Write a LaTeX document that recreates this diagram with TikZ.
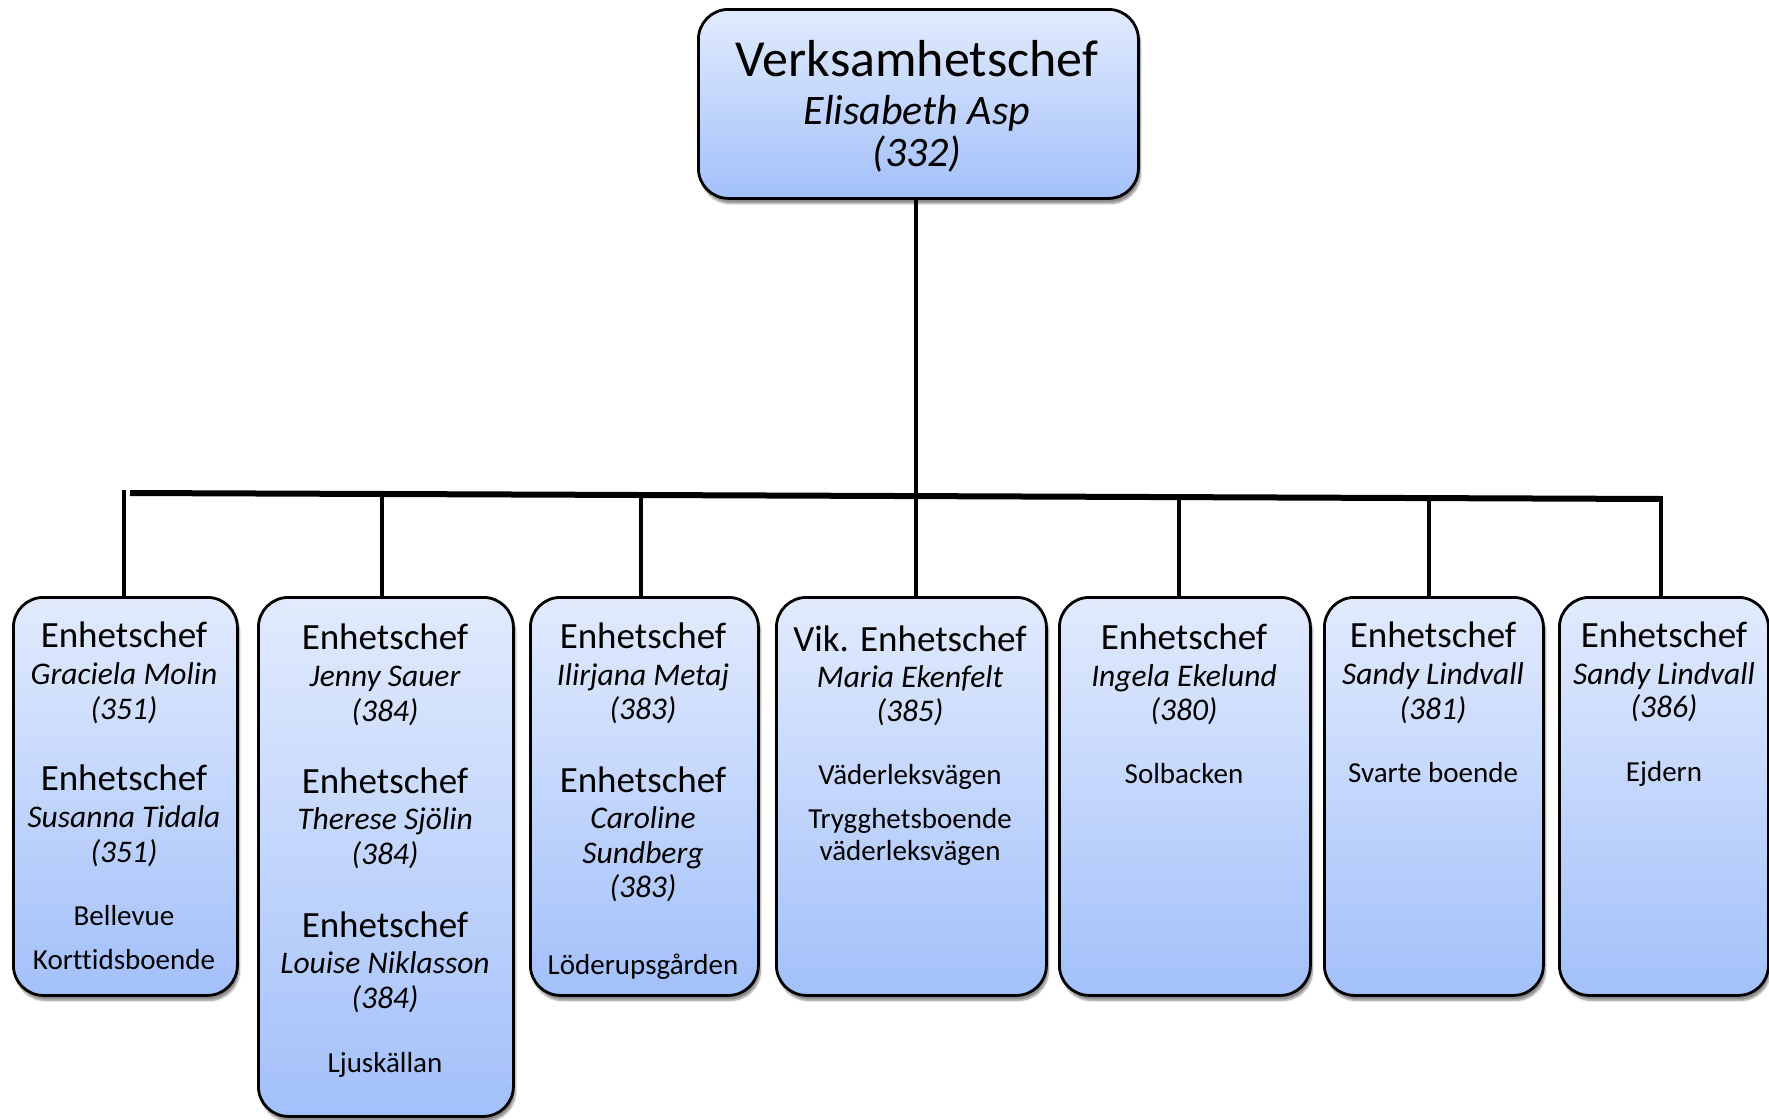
\documentclass[tikz,border=0pt]{standalone}
\usepackage{fontspec}
\setmainfont[Ligatures=NoCommon]{Carlito}
\usetikzlibrary{shadows.blur}
\definecolor{bluetop}{RGB}{226,235,253}
\definecolor{bluebot}{RGB}{162,192,250}
\tikzset{
  unitbox/.style={draw, line width=2.8pt, rounded corners=30pt, top color=bluetop, bottom color=bluebot,
    blur shadow={shadow xshift=2pt, shadow yshift=-5pt, shadow blur steps=6, shadow opacity=45},
    inner sep=0pt, anchor=north west},
  hd/.style={anchor=base, inner sep=0pt, font=\fontsize{37}{40}\selectfont},
  nm/.style={anchor=base, inner sep=0pt, font=\fontsize{31.5}{34}\selectfont\itshape},
  pl/.style={anchor=base, inner sep=0pt, font=\fontsize{29}{32}\selectfont},
  conn/.style={line width=4.4pt},
  barline/.style={line width=6pt}
}
\begin{document}
\begin{tikzpicture}[x=1pt,y=-1pt]
\useasboundingbox (0,0) rectangle (1769,1119);

% top box
\node[unitbox, minimum width=440pt, minimum height=189pt] (top) at (697,8) {};
\node[anchor=base, inner sep=0pt, font=\fontsize{52}{56}\selectfont] (topt) at (917,76) {Verksamhetschef};
\node[anchor=base, inner sep=0pt, font=\fontsize{42}{46}\selectfont\itshape] (topn) at (917,124) {Elisabeth Asp};
\node[anchor=base, inner sep=0pt, font=\fontsize{42}{46}\selectfont\itshape] (topk) at (917,166) {(332)};

% unit boxes
\node[unitbox, minimum width=224pt, minimum height=398pt] (b1) at (12,596) {};
\node[unitbox, minimum width=255pt, minimum height=519pt] (b2) at (257,596) {};
\node[unitbox, minimum width=228pt, minimum height=398pt] (b3) at (529,596) {};
\node[unitbox, minimum width=270pt, minimum height=398pt] (b4) at (775,596) {};
\node[unitbox, minimum width=251pt, minimum height=398pt] (b5) at (1058,596) {};
\node[unitbox, minimum width=219pt, minimum height=398pt] (b6) at (1323,596) {};
\node[unitbox, minimum width=209pt, minimum height=398pt] (b7) at (1558,596) {};

% box 1
\node[hd] (b1a) at (124,647) {Enhetschef};
\node[nm] (b1b) at (124,684) {Graciela Molin};
\node[nm] (b1c) at (124,719) {(351)};
\node[hd] (b1d) at (124,790) {Enhetschef};
\node[nm] (b1e) at (124,827) {Susanna Tidala};
\node[nm] (b1f) at (124,862) {(351)};
\node[pl] (b1g) at (124,925) {Bellevue};
\node[pl] (b1h) at (124,969) {Korttidsboende};

% box 2
\node[hd] (b2a) at (385,649) {Enhetschef};
\node[nm] (b2b) at (385,686) {Jenny Sauer};
\node[nm] (b2c) at (385,721) {(384)};
\node[hd] (b2d) at (385,793) {Enhetschef};
\node[nm] (b2e) at (385,829) {Therese Sjölin};
\node[nm] (b2f) at (385,864) {(384)};
\node[hd] (b2g) at (385,937) {Enhetschef};
\node[nm] (b2h) at (385,973) {Louise Niklasson};
\node[nm] (b2i) at (385,1008) {(384)};
\node[pl] (b2j) at (385,1072) {Ljuskällan};

% box 3
\node[hd] (b3a) at (643,648) {Enhetschef};
\node[nm] (b3b) at (643,685) {Ilirjana Metaj};
\node[nm] (b3c) at (643,719) {(383)};
\node[hd] (b3d) at (643,792) {Enhetschef};
\node[nm] (b3e) at (643,828) {Caroline};
\node[nm] (b3f) at (643,863) {Sundberg};
\node[nm] (b3g) at (643,897) {(383)};
\node[pl] (b3h) at (643,974) {Löderupsgården};

% box 4
\node[hd] (b4a) at (910,651) {Vik. Enhetschef};
\node[nm] (b4b) at (910,687) {Maria Ekenfelt};
\node[nm] (b4c) at (910,721) {(385)};
\node[pl] (b4d) at (910,784) {Väderleksvägen};
\node[pl] (b4e) at (910,828) {Trygghetsboende};
\node[pl] (b4f) at (910,860) {väderleksvägen};

% box 5
\node[hd] (b5a) at (1184,649) {Enhetschef};
\node[nm] (b5b) at (1184,686) {Ingela Ekelund};
\node[nm] (b5c) at (1184,720) {(380)};
\node[pl] (b5d) at (1184,783) {Solbacken};

% box 6
\node[hd] (b6a) at (1433,647) {Enhetschef};
\node[nm] (b6b) at (1433,684) {Sandy Lindvall};
\node[nm] (b6c) at (1433,719) {(381)};
\node[pl] (b6d) at (1433,782) {Svarte boende};

% box 7
\node[hd] (b7a) at (1664,647) {Enhetschef};
\node[nm] (b7b) at (1664,684) {Sandy Lindvall};
\node[nm] (b7c) at (1664,717) {(386)};
\node[pl] (b7d) at (1664,781) {Ejdern};

% connectors
\coordinate (barL) at (130,493);
\coordinate (barR) at (1662,499);
\coordinate (barM) at (916,496);
\draw[barline] (barL) -- (barR);
\draw[conn] (top.south -| barM) -- (barM);

\coordinate (d1) at (124,490);
\coordinate (d2) at (382,494);
\coordinate (d3) at (641,495);
\coordinate (d4) at (916,496);
\coordinate (d5) at (1179,497);
\coordinate (d6) at (1429,498);
\coordinate (d7) at (1661,496);
\draw[conn] (d1) -- (d1 |- b1.north);
\draw[conn] (d2) -- (d2 |- b2.north);
\draw[conn] (d3) -- (d3 |- b3.north);
\draw[conn] (d4) -- (d4 |- b4.north);
\draw[conn] (d5) -- (d5 |- b5.north);
\draw[conn] (d6) -- (d6 |- b6.north);
\draw[conn] (d7) -- (d7 |- b7.north);
\end{tikzpicture}
\end{document}
